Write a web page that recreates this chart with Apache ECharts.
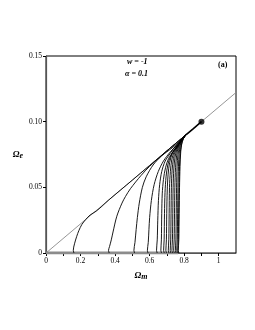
<!DOCTYPE html>
<html><head><meta charset="utf-8">
<script src="https://cdn.jsdelivr.net/npm/echarts@6/dist/echarts.min.js"></script>
<style>html,body{margin:0;padding:0;background:#fff}#c{width:255px;height:330px}</style>
</head><body><div id="c"></div>
<script>
var xTicks = [0, 0.2, 0.4, 0.6, 0.8, 1];
var yTicks = [0, 0.05, 0.10, 0.15];
var diagonal = [[0, 0], [1.1, 0.1222]];
var fixedPoint = [[0.9, 0.1]];
var axisBand = [[0, 0], [0.765, 0]];
var tail = [[0.81, 0.09], [0.85, 0.0944], [0.9, 0.1]];
var curve1 = [[0.162,0],[0.158,0.002],[0.165,0.007],[0.178,0.0127],[0.19,0.017],[0.207,0.0216],[0.23,0.0255],[0.256,0.029],[0.29,0.0318],[0.324,0.0356],[0.36,0.04],[0.5,0.0555],[0.7,0.0778],[0.81,0.09]];
var curve2 = [[0.366,0],[0.362,0.002],[0.368,0.005],[0.378,0.01],[0.388,0.016],[0.41,0.028],[0.44,0.038],[0.46,0.043],[0.489,0.049],[0.55,0.059],[0.6,0.066],[0.655,0.0725],[0.7,0.0778],[0.81,0.09]];
var curve3 = [[0.513,0],[0.509,0.002],[0.515,0.008],[0.522,0.018],[0.529,0.027],[0.54,0.038],[0.558,0.05],[0.58,0.058],[0.62,0.067],[0.67,0.074],[0.73,0.08],[0.78,0.086],[0.81,0.09]];
var curve4 = [[0.591,0],[0.587,0.002],[0.592,0.008],[0.596,0.018],[0.6,0.027],[0.61,0.04],[0.626,0.052],[0.65,0.062],[0.68,0.07],[0.72,0.077],[0.77,0.084],[0.81,0.09]];
var curve5 = [[0.644,0],[0.64,0.002],[0.644,0.01],[0.647,0.025],[0.651,0.04],[0.658,0.052],[0.67,0.062],[0.69,0.07],[0.72,0.076],[0.76,0.083],[0.81,0.09]];
var curve6 = [[0.669,0],[0.665,0.002],[0.668,0.01],[0.67,0.03],[0.673,0.045],[0.68,0.056],[0.692,0.065],[0.71,0.072],[0.74,0.078],[0.775,0.084],[0.81,0.09]];
var curve7 = [[0.685,0],[0.681,0.002],[0.684,0.01],[0.686,0.03],[0.689,0.046],[0.695,0.058],[0.705,0.067],[0.722,0.074],[0.75,0.08],[0.78,0.085],[0.81,0.09]];
var curve8 = [[0.698,0],[0.694,0.002],[0.697,0.01],[0.699,0.03],[0.702,0.048],[0.707,0.06],[0.716,0.069],[0.732,0.076],[0.757,0.081],[0.785,0.086],[0.81,0.09]];
var curve9 = [[0.712,0],[0.708,0.002],[0.711,0.01],[0.713,0.03],[0.715,0.05],[0.72,0.062],[0.728,0.071],[0.742,0.077],[0.764,0.082],[0.788,0.086],[0.81,0.09]];
var curve10 = [[0.723,0],[0.719,0.002],[0.722,0.01],[0.724,0.03],[0.726,0.05],[0.73,0.063],[0.738,0.072],[0.75,0.078],[0.77,0.083],[0.79,0.087],[0.81,0.09]];
var curve11 = [[0.733,0],[0.729,0.002],[0.732,0.01],[0.734,0.03],[0.736,0.05],[0.74,0.064],[0.747,0.073],[0.758,0.079],[0.775,0.084],[0.793,0.087],[0.81,0.09]];
var curve12 = [[0.743,0],[0.739,0.002],[0.742,0.01],[0.744,0.03],[0.746,0.05],[0.75,0.065],[0.756,0.074],[0.765,0.08],[0.78,0.085],[0.795,0.088],[0.81,0.09]];
var curve13 = [[0.753,0],[0.749,0.002],[0.752,0.01],[0.754,0.03],[0.756,0.05],[0.759,0.066],[0.764,0.075],[0.772,0.081],[0.785,0.085],[0.798,0.088],[0.81,0.09]];
var curve14 = [[0.761,0],[0.757,0.002],[0.76,0.01],[0.762,0.03],[0.764,0.05],[0.767,0.066],[0.771,0.076],[0.778,0.082],[0.789,0.086],[0.8,0.088],[0.81,0.09]];
var curve15 = [[0.767,0],[0.763,0.002],[0.766,0.01],[0.768,0.03],[0.77,0.05],[0.773,0.066],[0.777,0.076],[0.783,0.082],[0.792,0.086],[0.802,0.089],[0.81,0.09]];
var curve16 = [[0.77,0],[0.766,0.002],[0.769,0.01],[0.771,0.03],[0.773,0.05],[0.776,0.066],[0.78,0.077],[0.786,0.083],[0.795,0.087],[0.804,0.089],[0.81,0.09]];
var curves = [curve1,curve2,curve3,curve4,curve5,curve6,curve7,curve8,curve9,curve10,curve11,curve12,curve13,curve14,curve15,curve16];

var chart = echarts.init(document.getElementById('c'), null, {renderer:'canvas'});
var serif = 'Liberation Serif';
var series = [
  {type:'line', data:diagonal, showSymbol:false, silent:true, lineStyle:{color:'#8a8a8a', width:0.9}, z:2},
  {type:'line', data:axisBand, showSymbol:false, silent:true, lineStyle:{color:'#8c8c8c', width:3}, z:3}
];
curves.forEach(function(c){
  series.push({type:'line', data:c, showSymbol:false, silent:true, smooth:0.3, lineStyle:{color:'#000', width:0.9}, z:4});
});
series.push({type:'line', data:tail, showSymbol:false, silent:true, lineStyle:{color:'#000', width:1.6}, z:4});
series.push({type:'scatter', data:fixedPoint, symbolSize:6, itemStyle:{color:'#000'}, silent:true, z:5});

chart.setOption({
  animation:false,
  backgroundColor:'#fff',
  grid:{left:46, right:19, top:56, bottom:77, show:true, borderColor:'#000', borderWidth:1},
  xAxis:{type:'value', min:0, max:1.1, interval:0.1,
    axisLine:{show:true, lineStyle:{color:'#555', width:1}},
    axisTick:{show:true, length:3, lineStyle:{color:'#000'}},
    splitLine:{show:false},
    axisLabel:{fontFamily:serif, fontSize:7.5, color:'#000', margin:4, showMaxLabel:false,
      formatter:function(v){var r=Math.round(v*10); if(r%2!==0) return ''; var t=r/10; for(var i=0;i<xTicks.length;i++){if(Math.abs(xTicks[i]-t)<1e-6) return String(xTicks[i]);} return '';}},
    name:'{o|Ω}{s|m}', nameLocation:'middle', nameGap:18,
    nameTextStyle:{rich:{o:{fontFamily:serif, fontSize:9, fontWeight:'bold', fontStyle:'italic', color:'#000'}, s:{fontFamily:serif, fontSize:8, fontWeight:'bold', fontStyle:'italic', color:'#000', padding:[2,0,0,0]}}}
  },
  yAxis:{type:'value', min:0, max:0.15, interval:0.05,
    axisLine:{show:true, lineStyle:{color:'#555', width:1.2}},
    axisTick:{show:true, length:3, lineStyle:{color:'#000'}},
    splitLine:{show:false},
    axisLabel:{fontFamily:serif, fontSize:7.5, color:'#000', margin:4,
      formatter:function(v){var labels=['0','0.05','0.10','0.15']; for(var i=0;i<yTicks.length;i++){if(Math.abs(yTicks[i]-v)<1e-6) return labels[i];} return '';}},
    name:'{o|Ω}{s|e}', nameLocation:'middle', nameGap:22, nameRotate:0,
    nameTextStyle:{rich:{o:{fontFamily:serif, fontSize:9, fontWeight:'bold', fontStyle:'italic', color:'#000'}, s:{fontFamily:serif, fontSize:8, fontWeight:'bold', fontStyle:'italic', color:'#000', padding:[2,0,0,0]}}}
  },
  graphic:[
    {type:'text', left:127, top:58, style:{text:'w = -1', font:'italic bold 8px "Liberation Serif"', fill:'#000'}},
    {type:'text', left:125, top:70, style:{text:'α = 0.1', font:'italic bold 8px "Liberation Serif"', fill:'#000'}},
    {type:'text', left:218, top:61, style:{text:'(a)', font:'bold 8px "Liberation Serif"', fill:'#000'}}
  ],
  series:series
});
</script></body></html>
